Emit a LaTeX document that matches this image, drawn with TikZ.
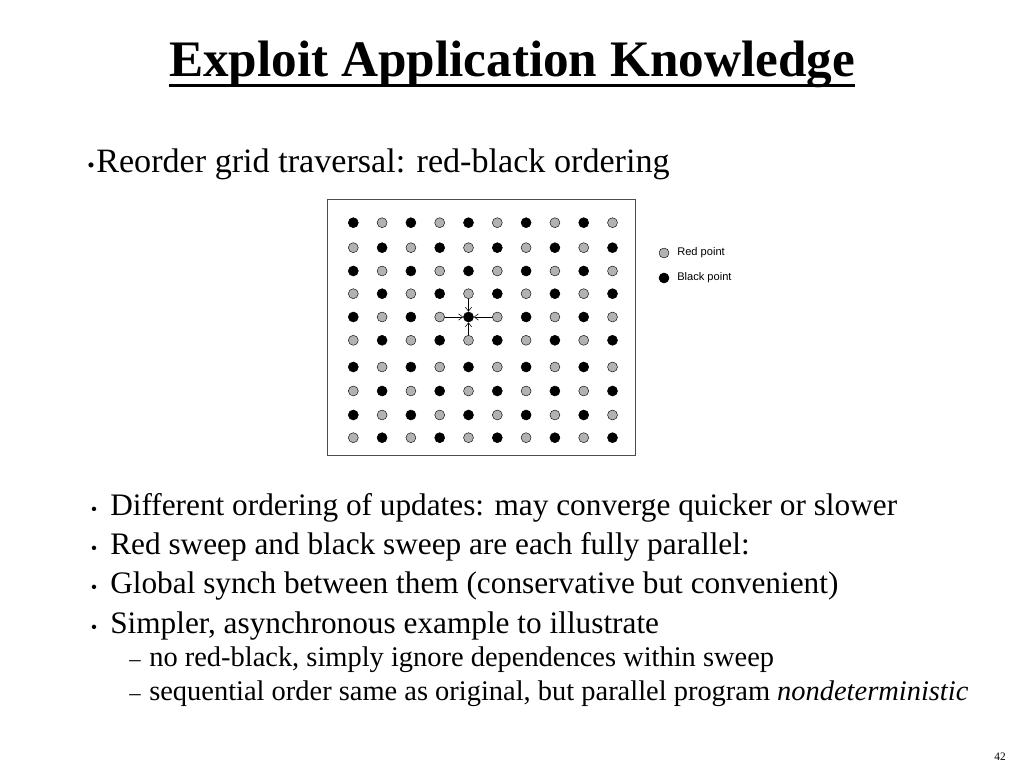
\documentclass[tikz,border=0pt]{standalone}
\usepackage{fontspec}
\setmainfont{Liberation Serif}
\newfontfamily\legendfont{Liberation Sans}
\usetikzlibrary{arrows.meta}
\definecolor{redpt}{RGB}{178,178,178}

\begin{document}
\begin{tikzpicture}[x=0.703125pt, y=-0.703125pt,
  txt/.style={anchor=base west, inner sep=0pt, font=\fontsize{22}{26}\selectfont},
  sub/.style={anchor=base west, inner sep=0pt, font=\fontsize{20}{24}\selectfont},
  bul/.style={anchor=base, inner sep=0pt, font=\fontsize{13}{15}\selectfont},
  blk/.style={circle, fill=black, draw=black, inner sep=0pt, minimum size=7pt},
  redp/.style={circle, fill=redpt, draw=black, line width=0.3pt, inner sep=0pt, minimum size=7pt},
  lgd/.style={anchor=west, inner sep=0pt, font=\legendfont\fontsize{7.8}{9}\selectfont},
  arr/.style={-{Straight Barb[length=3pt, width=4.5pt]}, line width=0.4pt}
]
\useasboundingbox[fill=white] (0,0) rectangle (1024,768);

% title
\node[anchor=base, inner sep=0pt, font=\bfseries\fontsize{36}{42}\selectfont] (title) at (512,76.7) {Exploit Application Knowledge};
\draw[line width=2.2pt] ([yshift=-6pt]title.base west) -- ([yshift=-6pt]title.base east);

\node[anchor=base, inner sep=0pt, font=\fontsize{15}{17}\selectfont] (b0) at (91,172.7) {\textbullet};
\node[anchor=base west, inner sep=0pt, font=\fontsize{24}{28}\selectfont] (t0) at (96,172.7) {Reorder grid traversal: red-black ordering};

% grid of points
\draw[black!70, line width=0.6pt] (327.3,199) rectangle (635,455);
\foreach \yy [count=\r from 0] in {222.7,247.7,271,293.7,317,340.3,367,391,415,437.7}
  \foreach \c in {0,...,9} {
    \pgfmathtruncatemacro{\odd}{mod(\r+\c,2)}
    \ifnum\odd=0
      \node[blk] (d-\r-\c) at ({353.3+28.8*\c},\yy) {};
    \else
      \node[redp] (d-\r-\c) at ({353.3+28.8*\c},\yy) {};
    \fi
  }
\draw[arr] (d-3-4) -- (d-4-4);
\draw[arr] (d-5-4) -- (d-4-4);
\draw[arr] (d-4-3) -- (d-4-4);
\draw[arr] (d-4-5) -- (d-4-4);

% legend
\node[redp] (lgred) at (664,253) {};
\node[lgd] (lgredtxt) at (677,253) {Red point};
\node[blk] (lgblk) at (664,278) {};
\node[lgd] (lgblktxt) at (677,278) {Black point};

% bullets
\node[bul] (b1) at (94,515) {\textbullet};
\node[txt] (t1) at (110,515) {Different ordering of updates: may converge quicker or slower};
\node[bul] (b2) at (94,554) {\textbullet};
\node[txt] (t2) at (110,554) {Red sweep and black sweep are each fully parallel:};
\node[bul] (b3) at (94,593) {\textbullet};
\node[txt] (t3) at (110,593) {Global synch between them (conservative but convenient)};
\node[bul] (b4) at (94,633) {\textbullet};
\node[txt] (t4) at (110,633) {Simpler, asynchronous example to illustrate};
\node[sub, font=\fontsize{16}{18}\selectfont] (s1) at (129,666.7) {–};
\node[sub] (u1) at (149,666.7) {no red-black, simply ignore dependences within sweep};
\node[sub, font=\fontsize{16}{18}\selectfont] (s2) at (129,700) {–};
\node[sub] (u2) at (149,700) {sequential order same as original, but parallel program \textit{nondeterministic}};

\node[anchor=base east, inner sep=0pt, font=\fontsize{8}{9}\selectfont] (pg) at (1006,760) {42};
\end{tikzpicture}
\end{document}
